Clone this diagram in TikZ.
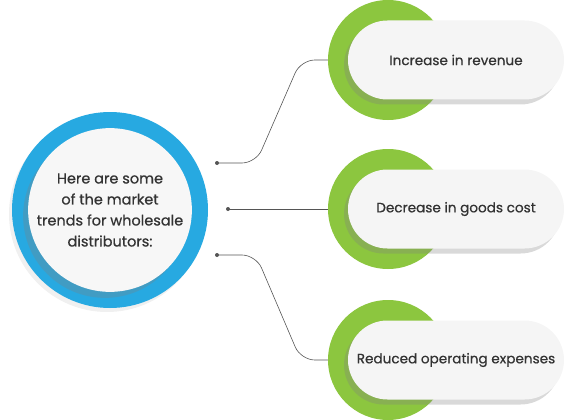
\documentclass[tikz,border=0pt]{standalone}
\usepackage{fontspec}
\setmainfont{Poppins}
\newfontfamily\trendfont{Poppins}[FakeBold=0.6]
\usetikzlibrary{positioning,
                calc,
                shadows}
\definecolor{ringblue}{HTML}{27A9E1}
\definecolor{leafgreen}{HTML}{8CC63F}
\definecolor{inkgray}{HTML}{333333}
\definecolor{wiregray}{HTML}{555555}

\begin{document}
\begin{tikzpicture}[x=1pt,y=-1pt]

%--------------------------------------------------
% STYLES
%--------------------------------------------------

\tikzset{
hubring/.style={
circle,
fill=ringblue,
minimum size=196pt,
inner sep=0pt,
drop shadow={shadow xshift=-3pt,shadow yshift=-4pt,opacity=.12}
},
hubface/.style={
circle,
fill=white!97!black,
minimum size=156pt,
inner sep=0pt,
align=center,
text=inkgray,
font=\trendfont\fontsize{14.5}{21}\selectfont,
drop shadow={shadow xshift=-5pt,shadow yshift=-6pt,opacity=.3}
},
leaf/.style={
circle,
fill=leafgreen,
minimum size=120pt,
inner sep=0pt
},
trendpill/.style={
draw=none,
fill=white!96!black,
rounded corners=39.5pt,
minimum width=216pt,
minimum height=79pt,
text=inkgray,
font=\trendfont\fontsize{13.6}{16}\selectfont,
drop shadow={shadow xshift=-4pt,shadow yshift=-5pt,opacity=.3}
},
pin/.style={
circle,
fill=wiregray,
minimum size=4pt,
inner sep=0pt
},
link/.style={
draw=wiregray,
line width=0.6pt,
rounded corners=14pt
}
}

\useasboundingbox (0,0) rectangle (568,420);

%--------------------------------------------------
% HUB
%--------------------------------------------------

\node[hubring] (ring) at (110,210) {};

\node[hubface] (hub) at (110,210)
{Here are some\\of the market\\trends for wholesale\\distributors:};

%--------------------------------------------------
% PINS
%--------------------------------------------------

\node[pin] (pinA) at (217,163) {};
\node[pin] (pinB) at (228,209) {};
\node[pin] (pinC) at (217,255) {};

%--------------------------------------------------
% TRENDS
%--------------------------------------------------

\node[leaf] (leafA) at (388,60) {};
\node[leaf] (leafB) at (388,209) {};
\node[leaf] (leafC) at (388,360) {};

\node[trendpill] (revenue) at (456,60)
{Increase in revenue};

\node[trendpill] (goods) at (456,209)
{Decrease in goods cost};

\node[trendpill] (expenses) at (456,360)
{Reduced operating expenses};

%--------------------------------------------------
% LINKS
%--------------------------------------------------

\draw[link] (pinA.center) -- ($(pinA.center)+(39,0)$)
-- ($(leafA.west)+(-27,0)$) -- (leafA.west);

\draw[link] (pinB.center) -- (leafB.west);

\draw[link] (pinC.center) -- ($(pinC.center)+(39,0)$)
-- ($(leafC.west)+(-27,0)$) -- (leafC.west);

\end{tikzpicture}
\end{document}
